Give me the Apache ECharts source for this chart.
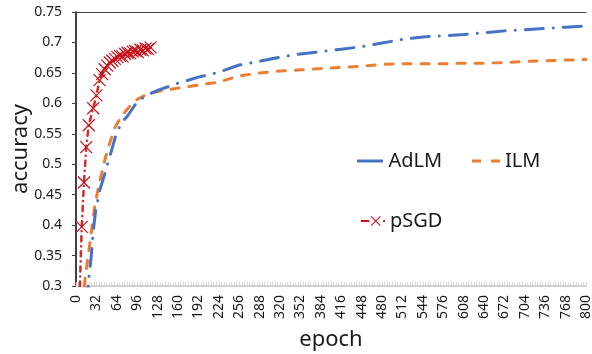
<!DOCTYPE html>
<html>
<head>
<meta charset="utf-8">
<script src="https://cdn.jsdelivr.net/npm/echarts@6/dist/echarts.min.js"></script>
<style>
  html, body { margin: 0; padding: 0; background: #fff; }
  #chart { width: 592px; height: 354px; }
</style>
</head>
<body>
<div id="chart"></div>
<script>
// epoch / accuracy pairs
const adlmEpoch = [17, 20, 24, 27, 31, 38, 46, 55, 64, 73, 80, 93, 108, 130, 160, 192, 224, 256, 288, 320, 352, 384, 416, 448, 480, 512, 544, 576, 608, 640, 672, 704, 736, 768, 800];
const adlmAcc = [0.27, 0.31, 0.35, 0.39, 0.425, 0.46, 0.487, 0.52, 0.553, 0.57, 0.578, 0.598, 0.612, 0.622, 0.633, 0.643, 0.651, 0.663, 0.669, 0.676, 0.681, 0.685, 0.689, 0.693, 0.699, 0.705, 0.709, 0.711, 0.713, 0.716, 0.719, 0.721, 0.723, 0.725, 0.727];

const ilmEpoch = [11, 14, 22, 30, 38, 46, 53, 61, 69, 80, 93, 108, 130, 160, 192, 224, 256, 288, 320, 352, 384, 416, 448, 480, 512, 544, 576, 608, 640, 672, 704, 736, 768, 800];
const ilmAcc = [0.27, 0.31, 0.372, 0.436, 0.475, 0.51, 0.535, 0.56, 0.575, 0.59, 0.605, 0.613, 0.62, 0.625, 0.63, 0.635, 0.645, 0.65, 0.653, 0.655, 0.657, 0.659, 0.661, 0.664, 0.665, 0.665, 0.665, 0.666, 0.666, 0.667, 0.669, 0.670, 0.671, 0.672];

const psgdEpoch = [3, 9, 12.5, 16, 20, 27, 32, 37, 41, 45, 49, 53, 57, 61, 65, 69, 73, 77, 81, 85, 89, 93, 97, 101, 105, 109, 113, 117];
const psgdAcc = [0.2, 0.397, 0.47, 0.528, 0.564, 0.592, 0.613, 0.638, 0.648, 0.656, 0.662, 0.667, 0.670, 0.673, 0.676, 0.678, 0.677, 0.681, 0.683, 0.682, 0.685, 0.686, 0.684, 0.688, 0.687, 0.690, 0.689, 0.692];

const epochTicks = { min: 0, max: 800, step: 32 };
const accTicks = { min: 0.3, max: 0.75, step: 0.05 };

const pair = (xs, ys) => xs.map((x, i) => [x, ys[i]]);

const font = '"Noto Sans", "Open Sans", sans-serif';
const crossPath = 'path://M0,0L10,10M10,0L0,10';
// legend samples
const solidIcon = 'path://M0,0H26V3H0Z';
const dashIcon = 'path://M0,0H9V3H0Z M19,0H28V3H19Z';
const psgdIcon = 'path://M0,5H9V7H0Z M10.6,1.4L11.4,0.6L21.4,10.6L20.6,11.4Z M20.6,0.6L21.4,1.4L11.4,11.4L10.6,10.6Z M24,5H26V7H24Z';

const legendText = { fontSize: 20, color: '#1a1a1a', fontFamily: font };

const chart = echarts.init(document.getElementById('chart'));

chart.setOption({
    backgroundColor: '#fff',
    animation: false,
    textStyle: { fontFamily: font },
    grid: { left: 76, right: 6, top: 12, bottom: 68, containLabel: false, outerBoundsMode: 'none' },
    legend: [
        {
            left: 352, top: 146, itemWidth: 27, itemHeight: 3, itemGap: 8,
            data: [{ name: 'AdLM', icon: solidIcon, itemStyle: { color: '#4472c4', borderWidth: 0 } }],
            textStyle: legendText
        },
        {
            left: 467, top: 146, itemWidth: 28, itemHeight: 3, itemGap: 8,
            data: [{ name: 'ILM', icon: dashIcon, itemStyle: { color: '#ed7d31', borderWidth: 0 } }],
            textStyle: legendText
        },
        {
            left: 356, top: 206, itemWidth: 24, itemHeight: 11, itemGap: 8,
            data: [{ name: 'pSGD', icon: psgdIcon, itemStyle: { color: '#c8101a', borderWidth: 0 } }],
            textStyle: legendText
        }
    ],
    xAxis: [
        {
            type: 'value',
            min: epochTicks.min,
            max: epochTicks.max,
            interval: epochTicks.step,
            name: 'epoch',
            nameLocation: 'middle',
            nameGap: 43,
            nameTextStyle: { fontSize: 22, color: '#1a1a1a', fontFamily: font },
            axisLine: { show: true, onZero: false, lineStyle: { color: '#d0d0d0', width: 2 } },
            axisTick: { show: true, inside: true, length: 4, lineStyle: { color: '#d9d9d9' } },
            minorTick: { show: true, splitNumber: 8, length: 4, lineStyle: { color: '#d9d9d9' } },
            axisLabel: { rotate: 90, margin: 9, fontSize: 14, color: '#1a1a1a', fontFamily: font },
            splitLine: { show: false }
        },
        {
            type: 'value',
            position: 'top',
            min: epochTicks.min,
            max: epochTicks.max,
            axisLine: { show: true, lineStyle: { color: '#404040', width: 1 } },
            axisTick: { show: false },
            axisLabel: { show: false },
            splitLine: { show: false }
        }
    ],
    yAxis: [
        {
            type: 'value',
            min: accTicks.min,
            max: accTicks.max,
            interval: accTicks.step,
            name: 'accuracy',
            nameLocation: 'middle',
            nameGap: 44,
            nameMoveOverlap: false,
            nameTextStyle: { fontSize: 22, color: '#1a1a1a', fontFamily: font },
            axisLine: { show: true, onZero: false, lineStyle: { color: '#000', width: 1.5 } },
            axisTick: { show: true, inside: false, length: 4, lineStyle: { color: '#404040' } },
            axisLabel: {
                margin: 14, fontSize: 14, color: '#1a1a1a', fontFamily: font,
                formatter: v => String(+v.toFixed(2))
            },
            splitLine: { show: false }
        },
        {
            type: 'value',
            position: 'right',
            min: accTicks.min,
            max: accTicks.max,
            axisLine: { show: true, lineStyle: { color: '#404040', width: 1 } },
            axisTick: { show: false },
            axisLabel: { show: false },
            splitLine: { show: false }
        }
    ],
    series: [
        {
            name: 'AdLM',
            type: 'line',
            data: pair(adlmEpoch, adlmAcc),
            symbol: 'none',
            clip: true,
            itemStyle: { color: '#4472c4' },
            lineStyle: { color: '#4472c4', width: 3, type: [18, 10, 0.1, 10], cap: 'round' },
            z: 3
        },
        {
            name: 'ILM',
            type: 'line',
            data: pair(ilmEpoch, ilmAcc),
            symbol: 'none',
            clip: true,
            itemStyle: { color: '#ed7d31' },
            lineStyle: { color: '#ed7d31', width: 3, type: [8, 10], cap: 'round' },
            z: 2
        },
        {
            name: 'pSGD',
            type: 'line',
            data: pair(psgdEpoch, psgdAcc),
            symbol: crossPath,
            symbolSize: 12,
            showAllSymbol: true,
            clip: true,
            itemStyle: { color: 'rgba(0,0,0,0)', borderColor: '#c8101a', borderWidth: 1.2 },
            lineStyle: { color: '#d42a2a', width: 2.5, type: [5, 5, 0.1, 5], cap: 'round' },
            z: 4
        }
    ]
});
</script>
</body>
</html>
